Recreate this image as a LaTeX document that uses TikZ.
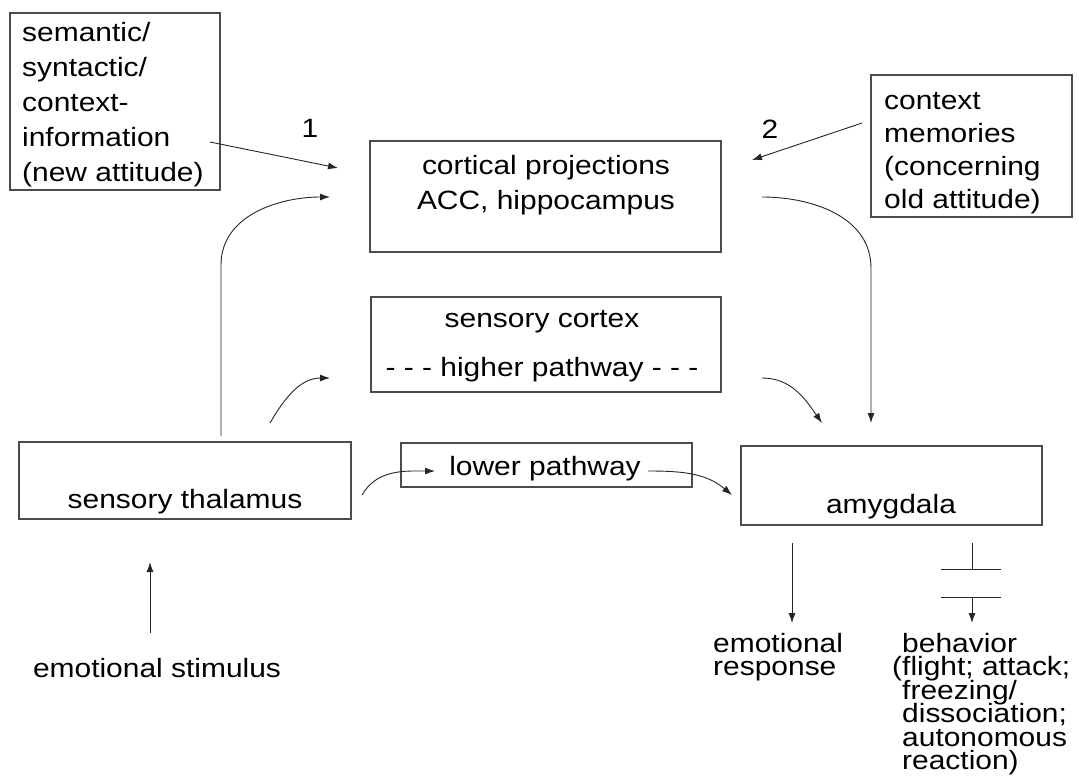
\documentclass[tikz,border=0pt]{standalone}
\usepackage{fontspec}
\setmainfont{Liberation Sans}[FakeStretch=1.13]
\usetikzlibrary{arrows.meta}
\setlength{\lineskiplimit}{-50pt}

\tikzset{
  box/.style={draw=black!70, line width=1.2pt, inner sep=0pt},
  txt/.style={inner sep=0pt},
  wire/.style={draw=black!85, line width=0.9pt},
  conn/.style={wire, -{Latex[length=10pt,width=7pt]}},
}

\begin{document}
\begin{tikzpicture}[x=1pt, y=1pt, every node/.style={font=\fontsize{26.5}{33}\selectfont}]
\useasboundingbox (0,0) rectangle (1079,-779);

% Boxes
\node[box, minimum width=210, minimum height=177] (sem) at (115,-101.5) {};
\node[txt, anchor=north west, align=left, font=\fontsize{26.5}{35}\selectfont] (sem-txt) at (22,-22) {semantic/\\syntactic/\\context-\\information\\(new attitude)};
\node[box, minimum width=201, minimum height=142] (ctx) at (971.5,-146) {};
\node[txt, anchor=north west, align=left] (ctx-txt) at (884,-92) {context\\memories\\(concerning\\old attitude)};
\node[box, minimum width=351, minimum height=111] (cort) at (545.5,-196.5) {};
\node[txt, anchor=north, align=center, font=\fontsize{26.5}{35}\selectfont] (cort-txt) at (546,-155) {cortical projections\\ACC, hippocampus};
\node[box, minimum width=350, minimum height=95] (cortex) at (546,-344.5) {};
\node[txt, anchor=north, align=center] (cortex-txt) at (542,-310) {sensory cortex\\[16pt]- - - higher pathway - - -};
\node[box, minimum width=332, minimum height=77] (thal) at (185,-480.5) {};
\node[txt, anchor=base] (thal-txt) at (185,-508) {sensory thalamus};
\node[box, minimum width=291, minimum height=44] (lower) at (546.5,-465) {};
\node[txt, anchor=base] (lower-txt) at (545,-475) {lower pathway};
\node[box, minimum width=301, minimum height=79] (amyg) at (891.5,-485.5) {};
\node[txt, anchor=base] (amyg-txt) at (891,-513) {amygdala};

% Free texts
\node[txt, anchor=base] (stim) at (157,-677) {emotional stimulus};
\node[txt, anchor=north west, align=left, font=\fontsize{26.5}{23.5}\selectfont] (resp) at (713,-633) {emotional\\response};
\node[txt, anchor=north west, align=left, font=\fontsize{26.5}{23.5}\selectfont] (behav) at (902,-633) {behavior\\\llap{(}flight; attack;\\freezing/\\dissociation;\\autonomous\\reaction)};
\node[txt, anchor=base] (one) at (310,-137) {1};
\node[txt, anchor=base] (two) at (770,-138) {2};

% Arrow ends
\coordinate (p1a) at (210,-142);  \coordinate (p1b) at (338,-168);
\coordinate (p2a) at (862,-123);  \coordinate (p2b) at (752,-160);
\coordinate (up-a) at (221,-436); \coordinate (up-m) at (221,-265); \coordinate (up-b) at (330,-197);
\coordinate (hi-a) at (270,-423); \coordinate (hi-b) at (330,-378);
\coordinate (hi-c) at (762,-378); \coordinate (hi-d) at (822,-423);
\coordinate (ctx-a) at (762,-197); \coordinate (ctx-m) at (871,-268); \coordinate (ctx-b) at (871,-423);
\coordinate (lo-a) at (362,-495); \coordinate (lo-b) at (435,-471);
\coordinate (lo-c) at (648,-471); \coordinate (lo-d) at (732,-495);
\coordinate (st-a) at (150,-633); \coordinate (st-b) at (150,-562);
\coordinate (er-a) at (792,-543); \coordinate (er-b) at (792,-623);
\coordinate (bh-a) at (972,-543); \coordinate (bh-b) at (972,-569);
\coordinate (bh-c) at (972,-597); \coordinate (bh-d) at (972,-623);

% Arrows
\draw[conn] (p1a) -- (p1b);
\draw[conn] (p2a) -- (p2b);
\draw[conn] (up-a) -- (up-m) to[out=90,in=180] (up-b);
\draw[conn] (hi-a) to[out=60,in=180] (hi-b);
\draw[conn] (hi-c) to[out=0,in=125] (hi-d);
\draw[conn] (ctx-a) to[out=0,in=90] (ctx-m) -- (ctx-b);
\draw[conn] (lo-a) to[out=60,in=180] (lo-b);
\draw[conn] (lo-c) to[out=0,in=140] (lo-d);
\draw[conn] (st-a) -- (st-b);
\draw[conn] (er-a) -- (er-b);
\draw[wire] (bh-a) -- (bh-b);
\draw[wire] ([xshift=-31]bh-b) -- ([xshift=29]bh-b);
\draw[wire] ([xshift=-31]bh-c) -- ([xshift=29]bh-c);
\draw[conn] (bh-c) -- (bh-d);
\end{tikzpicture}
\end{document}
